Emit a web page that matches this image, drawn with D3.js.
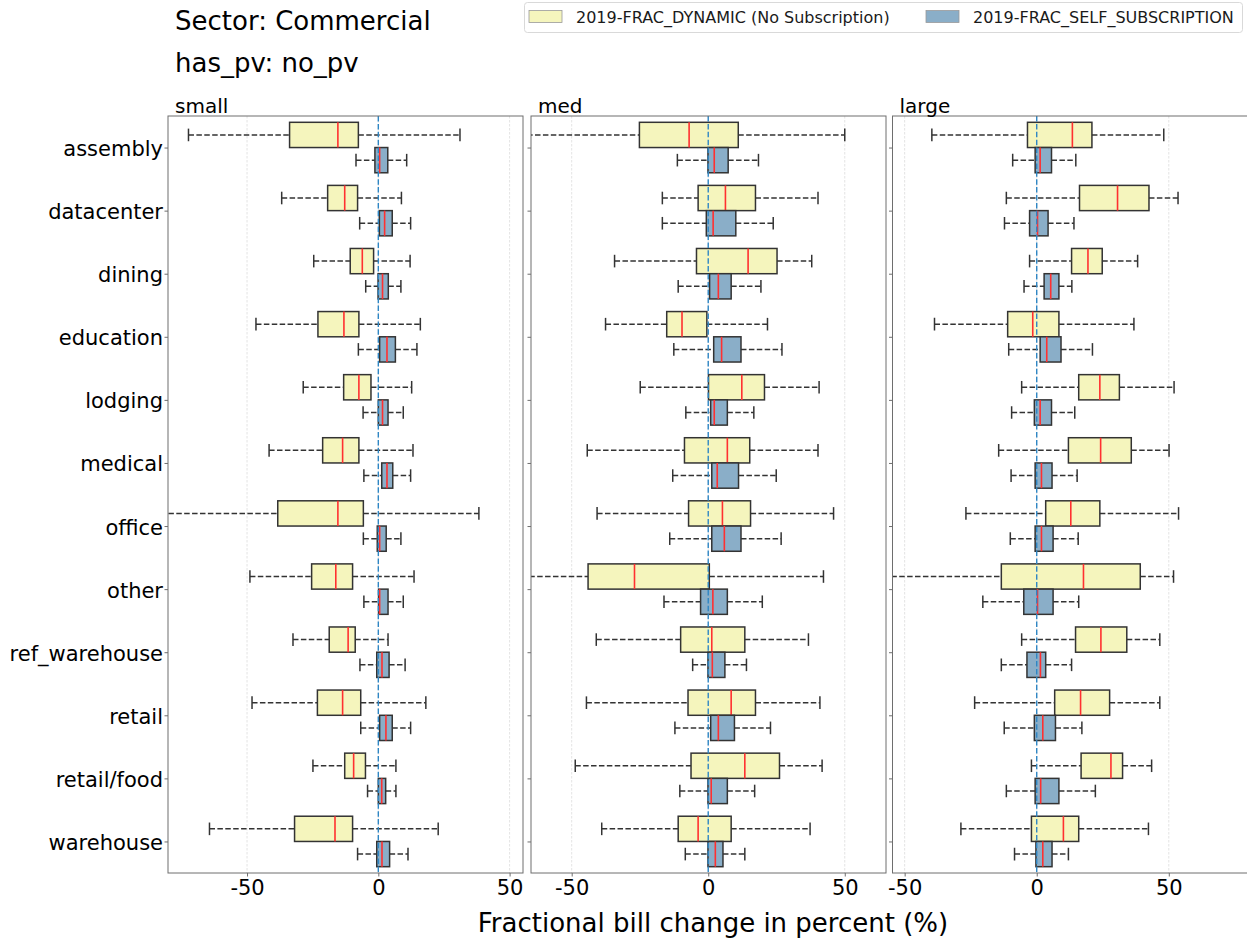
<!DOCTYPE html>
<html>
<head>
<meta charset="utf-8">
<script src="https://cdn.jsdelivr.net/npm/d3@7"></script>
<style>
  body { margin: 0; background: #fff; }
  svg { display: block; font-family: "DejaVu Sans", sans-serif; }
</style>
</head>
<body>
<svg id="chart" width="1247" height="939"></svg>
<script>
// ---------- data ----------
const categories = ["assembly","datacenter","dining","education","lodging","medical",
                    "office","other","ref_warehouse","retail","retail/food","warehouse"];
const panelNames = ["small","med","large"];
const seriesNames = ["2019-FRAC_DYNAMIC (No Subscription)", "2019-FRAC_SELF_SUBSCRIPTION"];
const xTicks = [-50, 0, 50];
const xDomains = [[-80.1, 55.1], [-64.9, 65.1], [-54.6, 79.8]];

// each entry: [whisker low, q1, median, q3, whisker high]
const smallDynamic = [
  [-72.3,-33.8,-15.4,-7.6,31.1],[-36.8,-19.3,-12.8,-7.9,8.8],[-24.6,-10.7,-6.1,-1.8,12.1],
  [-46.6,-23.0,-13.1,-7.4,16.0],[-28.6,-13.2,-7.4,-2.8,12.7],[-41.6,-21.2,-13.6,-7.4,13.2],
  [-95.0,-38.3,-15.4,-5.7,38.3],[-48.9,-25.4,-16.2,-9.8,13.6],[-32.5,-18.7,-11.5,-8.8,3.7],
  [-48.1,-23.2,-13.6,-6.7,18.1],[-24.9,-12.8,-9.4,-4.9,6.7],[-64.3,-31.9,-16.5,-9.8,22.8]
];
const smallSelf = [
  [-8.5,-1.3,0.5,3.6,10.8],[-7.1,0.4,2.4,5.3,12.3],[-4.8,-0.1,1.6,3.8,8.6],
  [-7.6,0.5,3.3,6.5,14.7],[-5.8,0.0,1.6,3.7,9.5],[-5.5,1.3,3.3,5.5,12.3],
  [-5.7,-0.4,0.5,3.0,8.6],[-5.5,0.1,0.5,3.7,9.5],[-7.0,-0.6,1.4,4.1,10.2],
  [-6.7,0.5,2.9,5.3,12.3],[-4.1,0.0,1.3,2.8,6.7],[-7.9,-0.6,1.4,4.3,11.3]
];
const medDynamic = [
  [-75.0,-25.2,-7.0,11.0,50.0],[-16.8,-3.7,6.3,17.3,40.2],[-34.3,-4.3,14.6,25.2,37.9],
  [-37.6,-15.2,-9.6,-0.5,21.7],[-24.9,0.1,12.3,20.6,40.6],[-44.3,-8.7,7.0,15.2,40.2],
  [-40.7,-7.2,5.2,15.5,45.9],[-80.0,-44.0,-27.0,0.4,42.2],[-41.0,-10.1,1.3,13.4,36.7],
  [-44.6,-7.4,8.4,17.3,40.9],[-48.7,-6.3,13.4,26.1,41.7],[-39.0,-11.0,-3.7,8.4,37.3]
];
const medSelf = [
  [-11.3,-0.1,2.2,7.3,18.4],[-16.8,-0.7,1.8,10.1,23.8],[-11.0,0.5,3.7,8.4,19.3],
  [-12.6,2.0,4.9,12.0,27.0],[-8.2,0.9,2.2,7.0,16.7],[-13.0,1.3,3.3,11.1,24.9],
  [-14.1,1.3,5.9,12.0,26.7],[-16.2,-2.8,1.7,7.0,19.8],[-5.7,-0.1,1.5,6.1,14.0],
  [-12.2,0.9,3.7,9.6,22.8],[-10.4,-0.1,1.1,7.0,17.0],[-8.4,-0.1,2.6,5.4,13.4]
];
const largeDynamic = [
  [-39.7,-3.5,13.5,20.9,48.1],[-11.5,16.2,30.6,42.5,53.5],[-2.7,13.2,19.4,24.8,38.2],
  [-38.7,-11.0,-1.5,8.4,36.8],[-5.7,15.9,23.9,31.3,52.0],[-14.4,12.0,24.2,35.8,50.1],
  [-26.8,3.4,12.9,23.9,53.7],[-70.0,-13.4,17.7,39.2,51.8],[-5.7,14.7,24.3,34.1,46.6],
  [-23.5,6.8,16.6,27.6,46.6],[-2.0,16.8,28.1,32.5,43.5],[-28.7,-2.0,10.1,15.9,42.3]
];
const largeSelf = [
  [-9.1,-0.6,1.3,5.6,14.8],[-12.2,-2.7,0.3,4.3,14.1],[-4.8,2.8,5.3,8.4,13.3],
  [-10.6,1.3,3.8,9.2,21.1],[-9.5,-0.9,1.3,5.6,14.4],[-9.7,-0.6,1.8,5.8,15.3],
  [-10.0,-0.6,1.8,6.2,15.7],[-20.4,-4.9,0.3,6.2,15.9],[-13.4,-3.7,1.4,3.4,13.2],
  [-12.3,-0.9,2.3,7.1,17.1],[-11.5,-0.6,1.5,8.4,22.2],[-8.4,-0.3,2.3,5.8,12.0]
];
const panelData = [
  [smallDynamic, smallSelf],
  [medDynamic, medSelf],
  [largeDynamic, largeSelf]
];

// ---------- styling ----------
const fills = ["#f5f5bd", "#8aaec8"];
const boxStroke = "#333333";
const medianColor = "#ff3030";
const frameColor = "#6e6e6e";
const panelLefts = [168, 531, 892.5];
const panelWidth = 355;
const plotTop = 116, plotBottom = 873;
const offsets = [-0.2, 0.2];
const boxH = 0.4;

const svg = d3.select("#chart");

const y = d3.scaleLinear().domain([-0.5, categories.length - 0.5]).range([plotTop, plotBottom]);
const bandPx = y(1) - y(0);

// titles
svg.append("text").attr("x", 175).attr("y", 30).attr("font-size", 26).attr("fill", "#000").text("Sector: Commercial");
svg.append("text").attr("x", 175).attr("y", 72).attr("font-size", 26).attr("fill", "#000").text("has_pv: no_pv");

panelNames.forEach((pname, p) => {
  const x0 = panelLefts[p];
  const x = d3.scaleLinear().domain(xDomains[p]).range([x0, x0 + panelWidth]);
  const g = svg.append("g");

  const clipId = "clip" + p;
  svg.append("clipPath").attr("id", clipId)
    .append("rect").attr("x", x0).attr("y", plotTop).attr("width", panelWidth).attr("height", plotBottom - plotTop);

  // grid
  g.selectAll(".grid").data(xTicks).enter().append("line")
    .attr("x1", d => x(d)).attr("x2", d => x(d))
    .attr("y1", plotTop).attr("y2", plotBottom)
    .attr("stroke", "#dcdcdc").attr("stroke-width", 0.8).attr("stroke-dasharray", "2.5,1.5");

  // x axis
  const xAxis = d3.axisBottom(x).tickValues(xTicks).tickSize(3.5).tickPadding(4).tickFormat(d3.format("d"));
  const xa = g.append("g").attr("transform", `translate(0,${plotBottom})`).call(xAxis);
  xa.select(".domain").remove();
  xa.selectAll(".tick line").attr("stroke", frameColor);
  xa.selectAll(".tick text").attr("font-size", 21).attr("font-family", "DejaVu Sans").attr("fill", "#000")
    .text(d => d < 0 ? "-" + Math.abs(d) : d);

  // y axis
  const yAxis = d3.axisLeft(y).tickValues(d3.range(categories.length)).tickSize(3.5).tickPadding(1.5)
    .tickFormat(i => p === 0 ? categories[i] : "");
  const ya = g.append("g").attr("transform", `translate(${x0},0)`).call(yAxis);
  ya.select(".domain").remove();
  ya.selectAll(".tick line").attr("stroke", frameColor);
  ya.selectAll(".tick text").attr("font-size", 21).attr("font-family", "DejaVu Sans").attr("fill", "#000")
    .attr("dy", "0.38em");

  // boxes
  const clipped = g.append("g").attr("clip-path", `url(#${clipId})`);
  panelData[p].forEach((series, s) => {
    series.forEach((v, i) => {
      const [lo, q1, med, q3, hi] = v;
      const yc = y(i + offsets[s]);
      const h = boxH * bandPx;
      const cap = h / 2;
      const bg = clipped.append("g");
      bg.append("line").attr("x1", x(lo)).attr("x2", x(q1)).attr("y1", yc).attr("y2", yc)
        .attr("stroke", boxStroke).attr("stroke-width", 1.5).attr("stroke-dasharray", "5.5,2.4");
      bg.append("line").attr("x1", x(q3)).attr("x2", x(hi)).attr("y1", yc).attr("y2", yc)
        .attr("stroke", boxStroke).attr("stroke-width", 1.5).attr("stroke-dasharray", "5.5,2.4");
      [lo, hi].forEach(c => {
        bg.append("line").attr("x1", x(c)).attr("x2", x(c)).attr("y1", yc - cap / 2).attr("y2", yc + cap / 2)
          .attr("stroke", boxStroke).attr("stroke-width", 1.5);
      });
      bg.append("rect").attr("x", x(q1)).attr("y", yc - h / 2).attr("width", x(q3) - x(q1)).attr("height", h)
        .attr("fill", fills[s]).attr("stroke", boxStroke).attr("stroke-width", 1.5);
      bg.append("line").attr("x1", x(med)).attr("x2", x(med)).attr("y1", yc - h / 2).attr("y2", yc + h / 2)
        .attr("stroke", medianColor).attr("stroke-width", 1.6);
    });
  });

  // zero line
  g.append("line").attr("x1", x(0)).attr("x2", x(0)).attr("y1", plotTop).attr("y2", plotBottom)
    .attr("stroke", "#2f86c4").attr("stroke-width", 1.4).attr("stroke-dasharray", "5.5,2.4");

  // frame
  g.append("rect").attr("x", x0).attr("y", plotTop).attr("width", panelWidth).attr("height", plotBottom - plotTop)
    .attr("fill", "none").attr("stroke", frameColor).attr("stroke-width", 1);

  // panel title
  svg.append("text").attr("x", x0 + 7).attr("y", 112.5).attr("font-size", 20).attr("fill", "#000").text(pname);
});

// x label
svg.append("text").attr("x", 713).attr("y", 932).attr("text-anchor", "middle")
  .attr("font-size", 26).attr("fill", "#000").text("Fractional bill change in percent (%)");

// legend
const lg = svg.append("g");
lg.append("rect").attr("x", 524.5).attr("y", 2.5).attr("width", 718).attr("height", 30).attr("rx", 3)
  .attr("fill", "#fff").attr("stroke", "#d9d9d9").attr("stroke-width", 1);
const legendX = [529, 926];
seriesNames.forEach((name, s) => {
  lg.append("rect").attr("x", legendX[s]).attr("y", 10.5).attr("width", 33).attr("height", 12)
    .attr("fill", fills[s]).attr("stroke", "#999").attr("stroke-width", 0.8);
  lg.append("text").attr("x", legendX[s] + 47).attr("y", 23).attr("font-size", 16).attr("fill", "#1a1a1a").text(name);
});
</script>
</body>
</html>
